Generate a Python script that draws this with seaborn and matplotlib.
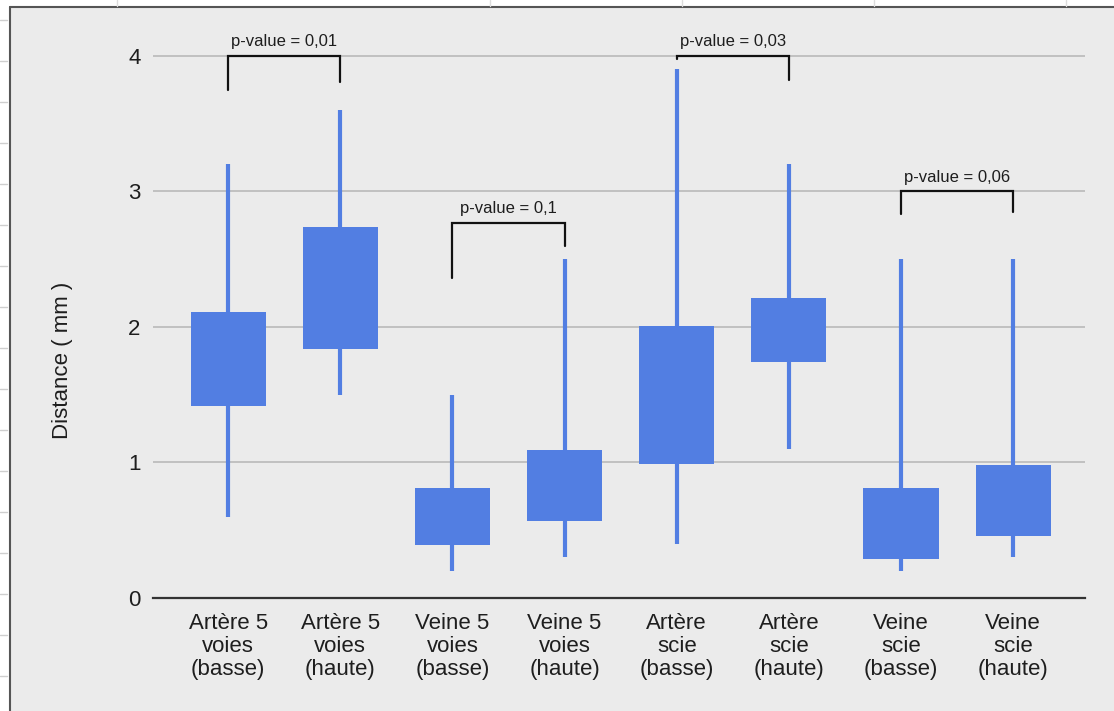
"""Candlestick-style chart of distances (mm) per vessel / method."""

import numpy as np
import pandas as pd

import seaborn as sns
import matplotlib.pyplot as plt
from matplotlib.patches import Rectangle
from matplotlib.lines import Line2D

###################################################################################################
###################################################################################################

categories = ['Artère 5\nvoies\n(basse)', 'Artère 5\nvoies\n(haute)',
              'Veine 5\nvoies\n(basse)', 'Veine 5\nvoies\n(haute)',
              'Artère\nscie\n(basse)', 'Artère\nscie\n(haute)',
              'Veine\nscie\n(basse)', 'Veine\nscie\n(haute)']
whisker_low = [0.60, 1.50, 0.20, 0.30, 0.40, 1.10, 0.20, 0.30]
box_low = [1.42, 1.84, 0.39, 0.57, 0.99, 1.74, 0.29, 0.46]
box_high = [2.11, 2.74, 0.81, 1.09, 2.01, 2.21, 0.81, 0.98]
whisker_high = [3.20, 3.60, 1.50, 2.50, 3.90, 3.20, 2.50, 2.50]

# pairs compared: (left idx, right idx, top, left leg end, right leg end, label)
bracket_left = [0, 2, 4, 6]
bracket_right = [1, 3, 5, 7]
bracket_top = [4.00, 2.77, 4.00, 3.00]
bracket_leg_left = [3.75, 2.36, 3.98, 2.83]
bracket_leg_right = [3.81, 2.60, 3.82, 2.85]
bracket_labels = ['p-value = 0,01', 'p-value = 0,1', 'p-value = 0,03', 'p-value = 0,06']

y_ticks = [0, 1, 2, 3, 4]

BLUE = '#527ee2'
PANEL = '#ebebeb'
TEXT = '#1e1e1e'

###################################################################################################
###################################################################################################

sns.set_theme(style='white')
plt.rcParams['font.family'] = ['Liberation Sans', 'DejaVu Sans']

df = pd.DataFrame({'cat': categories, 'low': box_low, 'high': box_high,
                   'wlo': whisker_low, 'whi': whisker_high})
df['height'] = df['high'] - df['low']

fig = plt.figure(figsize=[11.14, 7.11], dpi=100)
fig.patch.set_facecolor('white')

# Screenshot-like grey panel with dark frame on left/top
fig.add_artist(Rectangle((10 / 1114, 0), 1, 1 - 7 / 711, transform=fig.transFigure,
                         facecolor=PANEL, edgecolor='none', zorder=-10))
fig.add_artist(Line2D([10 / 1114, 10 / 1114], [0, 1 - 7 / 711], transform=fig.transFigure,
                      color='#555555', lw=1.5))
fig.add_artist(Line2D([10 / 1114, 1], [1 - 7 / 711, 1 - 7 / 711], transform=fig.transFigure,
                      color='#555555', lw=1.5))
for xp in [117, 490, 682, 874, 1066]:
    fig.add_artist(Line2D([xp / 1114, xp / 1114], [1 - 6 / 711, 1], transform=fig.transFigure,
                          color='#dddddd', lw=1))
for yp in range(20, 711, 41):
    fig.add_artist(Line2D([0, 7 / 1114], [1 - yp / 711, 1 - yp / 711],
                          transform=fig.transFigure, color='#cfcfcf', lw=1))

ax = fig.add_axes([153 / 1114, 1 - 598 / 711, 932 / 1114, 576 / 711])
ax.set_facecolor('none')

# Whiskers
ax.vlines(np.arange(len(df)), df['wlo'], df['whi'], color=BLUE, lw=3, zorder=2)

# Boxes
sns.barplot(data=df, x='cat', y='height', bottom=df['low'], color=BLUE, saturation=1,
            width=0.67, linewidth=0, ax=ax, zorder=3)

# Significance brackets
for xl, xr, top, ll, lr, lab in zip(bracket_left, bracket_right, bracket_top,
                                    bracket_leg_left, bracket_leg_right, bracket_labels):
    ax.plot([xl, xl, xr, xr], [ll, top, top, lr], color='#111111', lw=1.6, zorder=4,
            solid_joinstyle='miter')
    ax.text((xl + xr) / 2, top + 0.05, lab, ha='center', va='bottom', fontsize=12,
            color=TEXT)

ax.set_xlim(-0.67, 7.64)
ax.set_ylim(0, 4.25)
ax.set_yticks(y_ticks)
ax.yaxis.grid(True, color='#bdbdbd', lw=1.3)
ax.set_axisbelow(True)
for s in ['top', 'right', 'left']:
    ax.spines[s].set_visible(False)
ax.spines['bottom'].set_color('#333333')
ax.spines['bottom'].set_linewidth(1.6)

ax.tick_params(axis='y', length=0, pad=9, labelsize=16, labelcolor=TEXT)
ax.tick_params(axis='x', length=0, pad=11, labelsize=16, labelcolor=TEXT)
for t in ax.get_xticklabels():
    t.set_linespacing(1.12)

ax.set_xlabel('')
ax.set_ylabel('Distance ( mm )', fontsize=16, color=TEXT)
ax.yaxis.set_label_coords(-0.086, 0.413)

plt.savefig('out.png', dpi=100)
